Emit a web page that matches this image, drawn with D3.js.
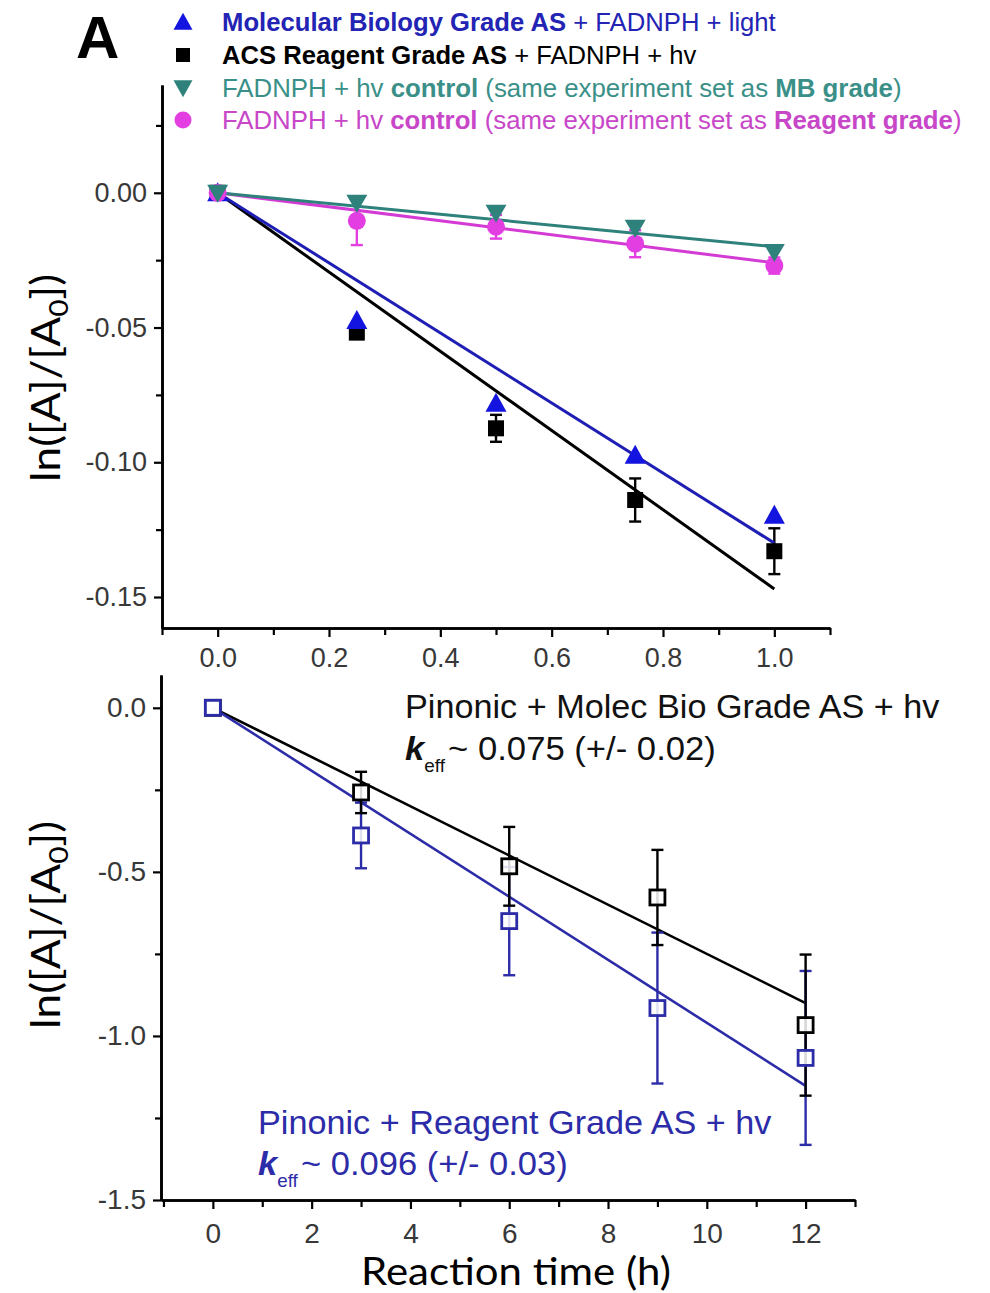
<!DOCTYPE html>
<html>
<head>
<meta charset="utf-8">
<script src="https://cdn.jsdelivr.net/npm/d3@7"></script>
<style>
  body { margin: 0; background: #fff; }
  svg { display: block; }
</style>
</head>
<body>
<script>
// ---------- Upper panel: FADNPH decay over the first hour ----------
const topTimes = [0, 0.25, 0.5, 0.75, 1.0];
const mbGrade = [0, -0.0474, -0.0781, -0.0974, -0.1196];
const reagentGrade = [0, -0.0519, -0.0874, -0.1140, -0.1330];
const reagentGradeErr = [0, 0.002, 0.005, 0.008, 0.0085];
const mbControl = [0, -0.0037, -0.0074, -0.0130, -0.0220];
const reagentControl = [0, -0.0104, -0.0126, -0.0189, -0.0270];
const reagentControlErr = [0, 0.009, 0.0044, 0.005, 0.003];
// fitted slopes (per hour) for blue, black, teal and magenta lines
const topSlopes = [-0.130, -0.147, -0.020, -0.026];
const topYTicks = [0.00, -0.05, -0.10, -0.15];
const topYMinor = [0.025, -0.025, -0.075, -0.125];
const topXTicks = [0.0, 0.2, 0.4, 0.6, 0.8, 1.0];
const topXMinor = [-0.1, 0.1, 0.3, 0.5, 0.7, 0.9, 1.1];

const legendRows = [
  [["Molecular Biology Grade AS", true], [" + FADNPH + light", false]],
  [["ACS Reagent Grade AS", true], [" + FADNPH + hv", false]],
  [["FADNPH + hv ", false], ["control", true], [" (same experiment set as ", false], ["MB grade", true], [")", false]],
  [["FADNPH + hv ", false], ["control", true], [" (same experiment set as ", false], ["Reagent grade", true], [")", false]]
];

// ---------- Lower panel: pinonic acid decay over 12 h ----------
const botTimes = [0, 3, 6, 9, 12];
const pinonicMB = [0, -0.258, -0.483, -0.578, -0.967];
const pinonicMBErr = [0, 0.063, 0.12, 0.145, 0.215];
const pinonicReagent = [0, -0.389, -0.650, -0.915, -1.067];
const pinonicReagentErr = [0, 0.10, 0.165, 0.23, 0.265];
const kEff = [0.075, 0.096];
const kEffErr = [0.02, 0.03];
const botYTicks = [0.0, -0.5, -1.0, -1.5];
const botYMinor = [-0.25, -0.75, -1.25];
const botXTicks = [0, 2, 4, 6, 8, 10, 12];
const botXMinor = [-1, 1, 3, 5, 7, 9, 11, 13];

const W = 990, H = 1293;
const C = {
  blueMark: "#1414e0", blueLine: "#1e1eb4", blueText: "#2323b4",
  teal: "#2e827b", tealText: "#3a9088",
  magMark: "#e23ee2", magLine: "#d43ad4", magText: "#c846c8",
  black: "#000", tick: "#383838",
  pinBlue: "#2c2ca8"
};
const tickFont = "'Liberation Sans', Arial, sans-serif";
const titleFont = "Lato, 'Open Sans', sans-serif";

const svg = d3.select("body").append("svg").attr("width", W).attr("height", H);

// plain hyphen for negative tick values
const hyphen = f => v => f(v).replace("\u2212", "-");

// text whose rendered width is pinned to a target width
function fitted(parent, x, y, width, build, opts = {}) {
  const g = parent.append("g");
  const t = g.append("text").attr("text-anchor", opts.anchor || "start");
  build(t);
  const w = t.node().getBBox().width;
  const s = width / w;
  g.attr("transform", `translate(${x},${y}) rotate(${opts.rotate || 0}) scale(${s},1)`);
  return g;
}

// ---------- scales ----------
const xT = d3.scaleLinear().domain([-0.1, 1.1]).range([162, 830]);
const yT = d3.scaleLinear().domain([-0.1615, 0.04]).range([628, 85]);
const xB = d3.scaleLinear().domain([-1.05, 13]).range([161, 855]);
const yB = d3.scaleLinear().domain([-1.5, 0.1]).range([1200, 675]);

// ---------- axes ----------
function styleAxis(g, fs) {
  g.select(".domain").attr("stroke", "#000").attr("stroke-width", 2.6);
  g.selectAll(".tick line").attr("stroke", "#000").attr("stroke-width", 2.2);
  g.selectAll(".tick text").attr("font-family", tickFont).attr("font-size", fs).attr("fill", C.tick);
}
function drawAxes(x, y, xTicks, xMinor, yTicks, yMinor, xFmt, yFmt, fs, xLabelPad) {
  const gx = svg.append("g").attr("transform", `translate(0,${y.range()[0]})`)
    .call(d3.axisBottom(x).tickValues(xTicks).tickFormat(xFmt).tickSize(9).tickSizeOuter(0).tickPadding(xLabelPad));
  styleAxis(gx, fs);
  const gxm = svg.append("g").attr("transform", `translate(0,${y.range()[0]})`)
    .call(d3.axisBottom(x).tickValues(xMinor).tickFormat("").tickSize(7).tickSizeOuter(0));
  styleAxis(gxm, fs);
  const gy = svg.append("g").attr("transform", `translate(${x.range()[0]},0)`)
    .call(d3.axisLeft(y).tickValues(yTicks).tickFormat(yFmt).tickSize(8).tickSizeOuter(0).tickPadding(7));
  styleAxis(gy, fs);
  const gym = svg.append("g").attr("transform", `translate(${x.range()[0]},0)`)
    .call(d3.axisLeft(y).tickValues(yMinor).tickFormat("").tickSize(6).tickSizeOuter(0));
  styleAxis(gym, fs);
}
drawAxes(xT, yT, topXTicks, topXMinor, topYTicks, topYMinor,
  hyphen(d3.format(".1f")), hyphen(d3.format(".2f")), 27, 11);
drawAxes(xB, yB, botXTicks, botXMinor, botYTicks, botYMinor,
  hyphen(d3.format("d")), hyphen(d3.format(".1f")), 28, 14);

// ---------- markers ----------
function triUp(g, cx, cy, w, h, fill) {
  g.append("path").attr("d", `M${cx},${cy - h * 0.55}L${cx + w / 2},${cy + h * 0.45}L${cx - w / 2},${cy + h * 0.45}Z`).attr("fill", fill);
}
function triDown(g, cx, cy, w, h, fill) {
  g.append("path").attr("d", `M${cx},${cy + h * 0.55}L${cx + w / 2},${cy - h * 0.45}L${cx - w / 2},${cy - h * 0.45}Z`).attr("fill", fill);
}
function square(g, cx, cy, s, fill) {
  g.append("rect").attr("x", cx - s / 2).attr("y", cy - s / 2).attr("width", s).attr("height", s).attr("fill", fill);
}
function circle(g, cx, cy, r, fill) {
  g.append("circle").attr("cx", cx).attr("cy", cy).attr("r", r).attr("fill", fill);
}
function errBars(g, x, y, xs, ys, es, color, cap, sw) {
  xs.forEach((t, i) => {
    if (!es[i]) return;
    const px = x(t), y1 = y(ys[i] + es[i]), y2 = y(ys[i] - es[i]);
    g.append("line").attr("x1", px).attr("x2", px).attr("y1", y1).attr("y2", y2).attr("stroke", color).attr("stroke-width", sw);
    [y1, y2].forEach(yy => g.append("line").attr("x1", px - cap).attr("x2", px + cap).attr("y1", yy).attr("y2", yy)
      .attr("stroke", color).attr("stroke-width", sw));
  });
}
function fitLine(g, x, y, t0, t1, slope, color, sw) {
  g.append("line").attr("x1", x(t0)).attr("y1", y(slope * t0)).attr("x2", x(t1)).attr("y2", y(slope * t1))
    .attr("stroke", color).attr("stroke-width", sw);
}

// ---------- upper panel marks ----------
const gT = svg.append("g");
errBars(gT, xT, yT, topTimes, reagentControl, reagentControlErr, C.magMark, 6, 2.4);
errBars(gT, xT, yT, topTimes, reagentGrade, reagentGradeErr, C.black, 6, 2.4);
fitLine(gT, xT, yT, 0, 1, topSlopes[3], C.magLine, 3);
fitLine(gT, xT, yT, 0, 1, topSlopes[2], C.teal, 3);
fitLine(gT, xT, yT, 0, 1, topSlopes[1], C.black, 3);
fitLine(gT, xT, yT, 0, 1, topSlopes[0], C.blueLine, 3);
topTimes.forEach((t, i) => square(gT, xT(t), yT(reagentGrade[i]), 16, C.black));
topTimes.forEach((t, i) => triUp(gT, xT(t), yT(mbGrade[i]), 21, 19, C.blueMark));
topTimes.forEach((t, i) => circle(gT, xT(t), yT(reagentControl[i]), 9, C.magMark));
topTimes.forEach((t, i) => triDown(gT, xT(t), yT(mbControl[i]), 21, 18, C.teal));

// ---------- legend ----------
const legendColors = [C.blueText, "#000", C.tealText, C.magText];
const legendWidths = [554, 475, 680, 740];
const legendY = [22, 55, 88, 120];
const gL = svg.append("g");
triUp(gL, 183, legendY[0], 19, 17, C.blueMark);
square(gL, 183, legendY[1], 14, C.black);
triDown(gL, 183, legendY[2], 19, 17, C.teal);
circle(gL, 183, legendY[3], 8.5, C.magMark);
legendRows.forEach((row, r) => {
  fitted(gL, 222, legendY[r] + 9, legendWidths[r], t => {
    t.attr("font-family", tickFont).attr("font-size", 25).attr("fill", legendColors[r]);
    row.forEach(([s, b]) => t.append("tspan").text(s).attr("font-weight", b ? "bold" : "normal").attr("xml:space", "preserve"));
  });
});

// panel letter
svg.append("text").attr("x", 76).attr("y", 58).text("A")
  .attr("font-family", tickFont).attr("font-weight", "bold").attr("font-size", 60).attr("fill", "#000");

// ---------- lower panel marks ----------
const gB = svg.append("g");
fitLine(gB, xB, yB, 0, 12, -kEff[0], C.black, 2.6);
fitLine(gB, xB, yB, 0, 12, -kEff[1], C.pinBlue, 2.6);
errBars(gB, xB, yB, botTimes, pinonicReagent, pinonicReagentErr, C.pinBlue, 6, 2.4);
errBars(gB, xB, yB, botTimes, pinonicMB, pinonicMBErr, C.black, 6, 2.4);
function openSquare(g, cx, cy, s, color) {
  g.append("rect").attr("x", cx - s / 2).attr("y", cy - s / 2).attr("width", s).attr("height", s)
    .attr("fill", "#fff").attr("fill-opacity", 0.85).attr("stroke", color).attr("stroke-width", 2.8);
}
botTimes.forEach((t, i) => openSquare(gB, xB(t), yB(pinonicMB[i]), 15, C.black));
botTimes.forEach((t, i) => openSquare(gB, xB(t), yB(pinonicReagent[i]), 15, C.pinBlue));

// annotations
function kLabel(x, y, k, err, color, width) {
  fitted(svg, x, y, width, t => {
    t.attr("font-family", tickFont).attr("font-size", 33).attr("fill", color);
    t.append("tspan").text("k").attr("font-weight", "bold").attr("font-style", "italic");
    t.append("tspan").text("eff").attr("font-size", 18).attr("dy", 12);
    t.append("tspan").text(`~ ${k.toFixed(3)} (+/- ${err.toFixed(2)})`).attr("dy", -12).attr("dx", 3);
  });
}
fitted(svg, 405, 718, 535, t => t.attr("font-family", tickFont).attr("font-size", 33).attr("fill", "#111")
  .text("Pinonic + Molec Bio Grade AS + hv"));
kLabel(405, 760, kEff[0], kEffErr[0], "#111", 311);
fitted(svg, 258, 1134, 514, t => t.attr("font-family", tickFont).attr("font-size", 33).attr("fill", C.pinBlue)
  .text("Pinonic + Reagent Grade AS + hv"));
kLabel(258, 1175, kEff[1], kEffErr[1], C.pinBlue, 310);

// ---------- axis titles ----------
function yTitle(cy) {
  fitted(svg, 60, cy, 208, t => {
    t.attr("font-family", titleFont).attr("font-size", 40).attr("fill", "#000");
    t.append("tspan").text("ln([A]/[A");
    t.append("tspan").text("0").attr("font-size", 27).attr("dy", 8);
    t.append("tspan").text("])").attr("dy", -8);
  }, { rotate: -90, anchor: "middle" });
}
yTitle(378);
yTitle(925);
fitted(svg, 516, 1285, 310, t => t.attr("font-family", titleFont).attr("font-size", 38).attr("fill", "#000")
  .text("Reaction time (h)"), { anchor: "middle" });
</script>
</body>
</html>
